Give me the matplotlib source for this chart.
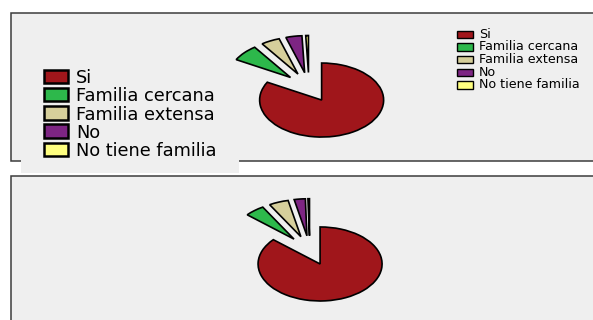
"""Two exploded pie charts of family support answers, Excel style."""

import matplotlib.pyplot as plt
from matplotlib.patches import Rectangle

# answer categories, in wedge order (clockwise from 12 o'clock)
labels = ["Si", "Familia cercana", "Familia extensa", "No", "No tiene familia"]
colors = ["#a0161b", "#2db84b", "#d6cf9b", "#7d2583", "#ffff80"]

# percentage of answers per category
top_values = [83.0, 7.2, 4.9, 4.2, 0.7]
bottom_values = [86.4, 5.2, 5.1, 2.9, 0.4]

W, H = 593, 320
PANEL = "#efefef"
BORDER = "#3c3c3c"

fig = plt.figure(figsize=(W / 100, H / 100), dpi=100)
fig.patch.set_facecolor("white")

# full-figure axes in pixel units for panels and legends
bg = fig.add_axes([0, 0, 1, 1])
bg.set_xlim(0, W)
bg.set_ylim(H, 0)
bg.axis("off")

# chart areas
bg.add_patch(Rectangle((11, 13), 600, 148, facecolor=PANEL, edgecolor=BORDER, lw=1.1))
bg.add_patch(Rectangle((11, 176), 600, 160, facecolor=PANEL, edgecolor=BORDER, lw=1.1))

# large legend box hanging over the lower edge of the top chart
bg.add_patch(Rectangle((21, 52), 218, 121, facecolor=PANEL, edgecolor="none"))
for i, (lab, col) in enumerate(zip(labels, colors)):
    y = 83 + i * 18.3
    bg.add_patch(Rectangle((44, y - 13.5), 23.5, 13.5, facecolor=col, edgecolor="black", lw=1.8))
    bg.text(76, y, lab, fontsize=12.8, family="DejaVu Sans", va="baseline", ha="left")

# small legend on the right of the top chart
for i, (lab, col) in enumerate(zip(labels, colors)):
    y = 37.5 + i * 12.7
    bg.add_patch(Rectangle((457, y - 7), 15.5, 7.5, facecolor=col, edgecolor="black", lw=1.0))
    bg.text(479, y, lab, fontsize=9.1, family="DejaVu Sans", va="baseline", ha="left")


def draw_pie(values, cx, cy, rx=62, ry=37, lim=1.6):
    """Exploded pie centred at pixel (cx, cy), squashed to an ellipse rx x ry."""
    ax = fig.add_axes([
        (cx - rx * lim) / W,
        (H - cy - ry * lim) / H,
        2 * rx * lim / W,
        2 * ry * lim / H,
    ])
    ax.pie(
        values,
        colors=colors,
        startangle=90,
        counterclock=False,
        explode=[0.4] * len(values),
        wedgeprops=dict(edgecolor="black", linewidth=1.2),
    )
    ax.set_aspect("auto")
    ax.set_xlim(-lim, lim)
    ax.set_ylim(-lim, lim)
    ax.axis("off")
    return ax


draw_pie(top_values, 309, 87.3)
draw_pie(bottom_values, 309.8, 250.5)

fig.savefig("out.png", dpi=100, facecolor="white")
